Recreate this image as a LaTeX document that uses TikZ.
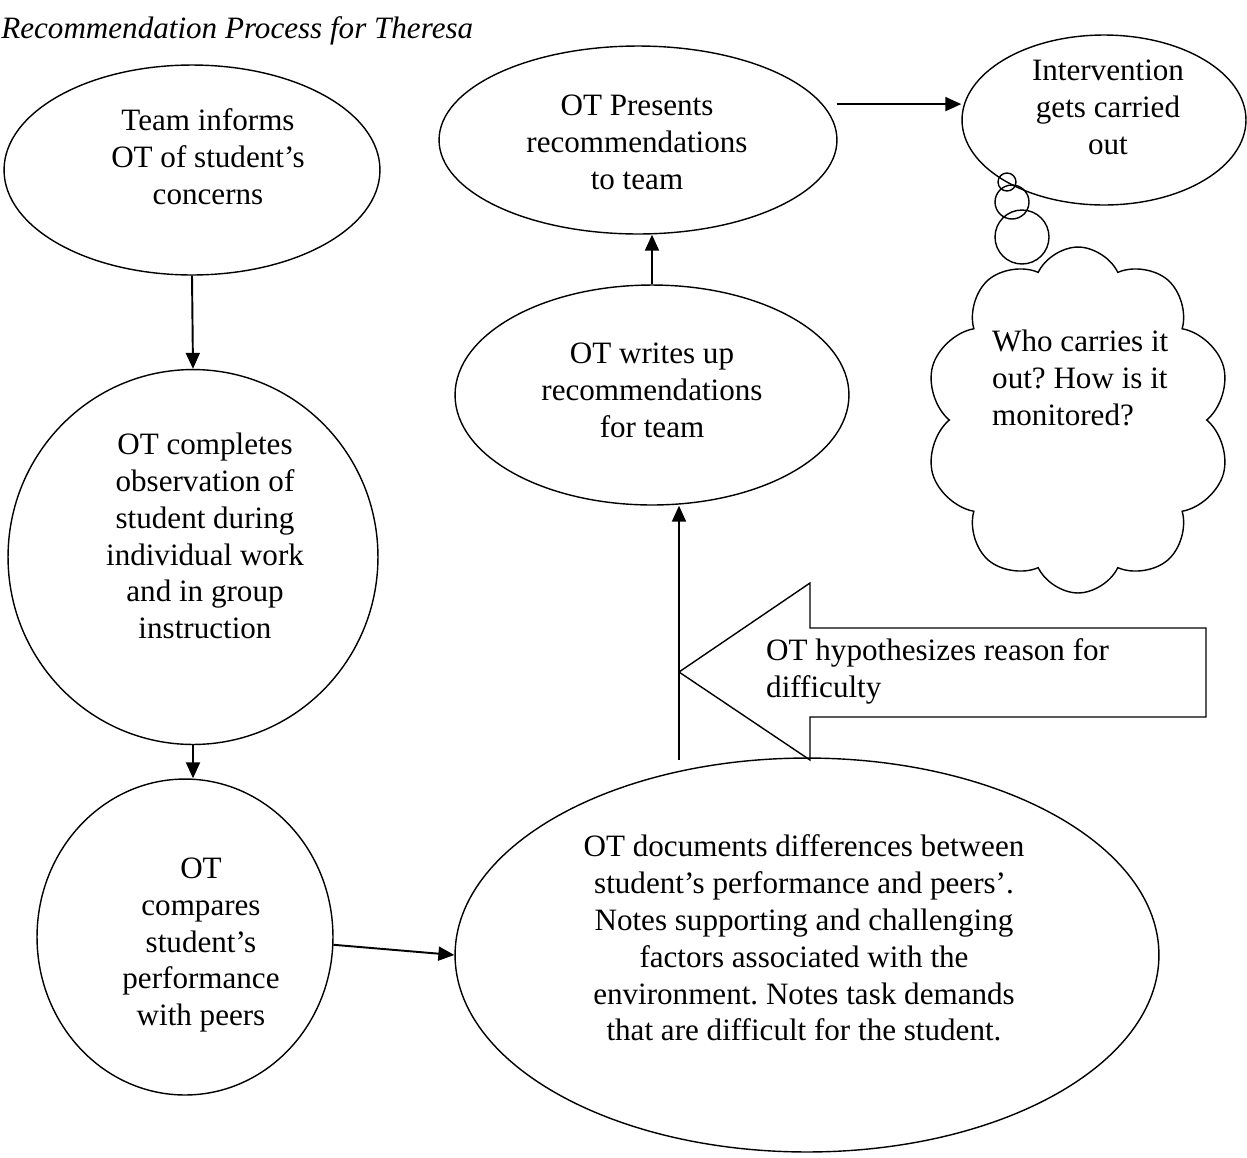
\documentclass[tikz,border=0pt]{standalone}
\usepackage{fontspec}
\setmainfont{Liberation Serif}
\usetikzlibrary{arrows.meta,shapes.geometric,shapes.symbols}
\frenchspacing

\begin{document}
\begin{tikzpicture}[x=0.02cm, y=-0.02cm,
  oval/.style={ellipse, draw, line width=0.8pt, inner sep=0pt},
  txt/.style={align=center, font=\fontsize{17.7}{21}\selectfont},
  flow/.style={line width=1.1pt, -{Triangle[length=0.32cm, width=0.28cm]}},
  bubble/.style={circle, draw, line width=0.8pt, inner sep=0pt}]

\useasboundingbox (0,0) rectangle (1247,1157);

% Title
\node[txt, font=\fontsize{17.7}{21}\selectfont\itshape, anchor=base west, inner sep=0pt] (title) at (1,38) {Recommendation Process for Theresa};

% Left column
\node[oval, minimum width=7.52cm, minimum height=4.2cm] (inform) at (192,170) {};
\node[txt] (informtxt) at (208,157) {Team informs\\OT of student’s\\concerns};

\node[oval, minimum width=7.4cm, minimum height=7.5cm] (observe) at (193,557) {};
\node[txt] (observetxt) at (205,536) {OT completes\\observation of\\student during\\individual work\\and in group\\instruction};

\node[oval, minimum width=5.92cm, minimum height=6.32cm] (compare) at (185,937) {};
\node[txt] (comparetxt) at (201,945) {OT\\compares\\student’s\\performance\\with peers};

% Bottom right
\node[oval, minimum width=14.08cm, minimum height=7.88cm] (differ) at (807,955) {};
\node[txt] (differtxt) at (804,938) {OT documents differences between\\student’s performance and peers’.\\Notes supporting and challenging\\factors associated with the\\environment. Notes task demands\\that are difficult for the student.};

% Middle column
\node[oval, minimum width=7.88cm, minimum height=4.4cm] (write) at (652,395) {};
\node[txt] (writetxt) at (652,390) {OT writes up\\recommendations\\for team};

\node[oval, minimum width=7.96cm, minimum height=3.76cm] (present) at (638,140) {};
\node[txt] (presenttxt) at (637,142) {OT Presents\\recommendations\\to team};

% Top right
\node[oval, minimum width=5.68cm, minimum height=3.4cm] (carry) at (1104,120) {};
\node[txt] (carrytxt) at (1108,107) {Intervention\\gets carried\\out};

% Thought bubble
\node[bubble, minimum size=0.36cm] (puffa) at (1007,182) {};
\node[bubble, minimum size=0.68cm] (puffb) at (1012,202) {};
\node[bubble, minimum size=1.08cm] (puffc) at (1022,237) {};
\node[cloud, draw, fill=white, line width=0.8pt, cloud puffs=10, cloud puff arc=130, inner sep=0pt,
      minimum width=6.12cm, minimum height=6.92cm] (ask) at (1078,420) {};
\node[txt, align=left, anchor=west] (asktxt) at (986,378) {Who carries it\\out? How is it\\monitored?};

% Block arrow
\draw[line width=0.8pt] (679,672) -- (810,583) -- (810,628) -- (1206,628) -- (1206,717)
  -- (810,717) -- (810,760) -- cycle;
\node[txt, align=left, anchor=west] (hyptxt) at (760,671) {OT hypothesizes reason for\\difficulty};

% Arrows
\coordinate (hypfoot) at (679,760);
\draw[flow] (inform.south) -- (observe.north);
\draw[flow] (observe.south) -- (observe.south |- compare.north);
\draw[flow] (compare.-3) -- (differ.west);
\draw[flow] (hypfoot) -- (hypfoot |- write.south);
\draw[flow] (write.north) -- (write.north |- present.south);
\draw[flow, shorten <=0.28cm] (present.11) -- (present.11 -| carry.west);

\end{tikzpicture}
\end{document}
